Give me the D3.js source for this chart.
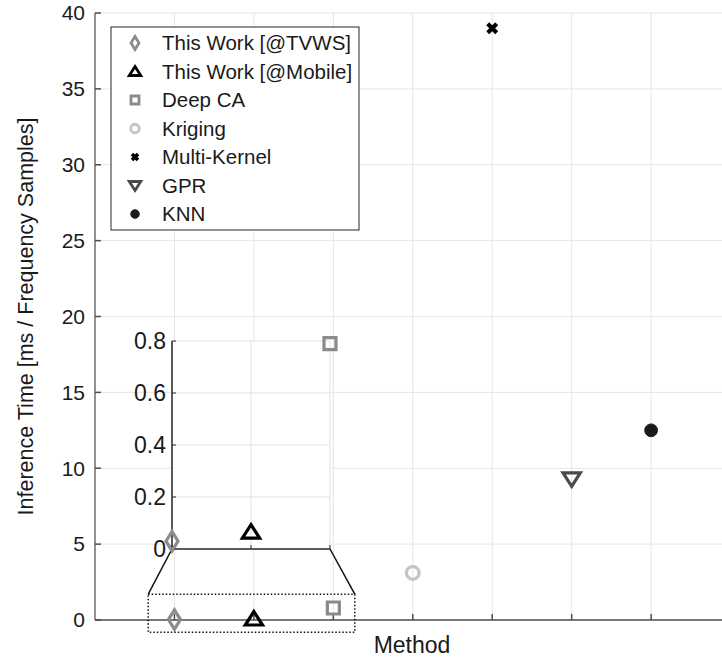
<!DOCTYPE html>
<html>
<head>
<meta charset="utf-8">
<script src="https://cdn.jsdelivr.net/npm/d3@7"></script>
<style>
  body { margin: 0; background: #fff; }
  svg text { font-family: "Liberation Sans", Arial, sans-serif; fill: #1a1a1a; }
</style>
</head>
<body>
<svg id="chart" width="722" height="660"></svg>
<script>
// data
var methods = ['This Work [@TVWS]', 'This Work [@Mobile]', 'Deep CA', 'Kriging', 'Multi-Kernel', 'GPR', 'KNN']
var methodPos = [1, 2, 3, 4, 5, 6, 7]
var inferenceMs = [0.03, 0.065, 0.79, 3.1, 39.0, 9.3, 12.5]
var markerShapes = ['diamond', 'triangle', 'square', 'circle', 'cross', 'triangleDown', 'dot']
var markerColors = ['#8c8c8c', '#000000', '#8a8a8a', '#c4c4c4', '#000000', '#4a4a4a', '#1a1a1a']
var yTicks = [0, 5, 10, 15, 20, 25, 30, 35, 40]
var xTicks = [1, 2, 3, 4, 5, 6, 7, 8]
var insetTicks = [0, 0.2, 0.4, 0.6, 0.8]
var insetLabels = ['0', '0.2', '0.4', '0.6', '0.8']
var insetCount = 3 // the three fastest methods are repeated in the zoom

var svg = d3.select('#chart')

// main scales (axes box runs past the right edge of the picture)
var x = d3.scaleLinear().domain([0, 9]).range([95, 810])
var y = d3.scaleLinear().domain([0, 40]).range([620, 13])

// inset scales
var xi = d3.scaleLinear().domain([1, 3]).range([172, 330])
var yi = d3.scaleLinear().domain([0, 0.8]).range([549, 341])

// zoom window in main data units
var zoomBox = { x0: 0.67, x1: 3.27, y0: -0.8, y1: 1.7 }

function markerPath(shape, s) {
  // s = half size
  switch (shape) {
    case 'diamond':
      return `M0,${-s * 1.3}L${s * 0.8},0L0,${s * 1.3}L${-s * 0.8},0Z`
    case 'triangle':
      return `M0,${-s}L${s * 1.15},${s * 0.8}L${-s * 1.15},${s * 0.8}Z`
    case 'triangleDown':
      return `M0,${s}L${s * 1.15},${-s * 0.8}L${-s * 1.15},${-s * 0.8}Z`
    case 'square':
      return `M${-s * 0.8},${-s * 0.8}H${s * 0.8}V${s * 0.8}H${-s * 0.8}Z`
    case 'cross':
      return `M${-s * 0.6},${-s * 0.6}L${s * 0.6},${s * 0.6}M${-s * 0.6},${s * 0.6}L${s * 0.6},${-s * 0.6}`
    default:
      return d3.arc()({ innerRadius: 0, outerRadius: s * 0.85, startAngle: 0, endAngle: 2 * Math.PI })
  }
}

function drawMarker(g, shape, color, s, sw) {
  var p = g.append('path').attr('d', markerPath(shape, s))
  if (shape == 'dot') {
    p.attr('fill', color).attr('stroke', color).attr('stroke-width', 1)
  } else {
    p.attr('fill', 'none').attr('stroke', color)
      .attr('stroke-width', shape == 'cross' ? sw * 1.3 : sw)
      .attr('stroke-linejoin', 'miter')
  }
  return p
}

// grid
var grid = svg.append('g')
grid.selectAll('.gx').data(xTicks).enter().append('line')
  .attr('x1', (d) => x(d)).attr('x2', (d) => x(d))
  .attr('y1', y(0)).attr('y2', y(40))
  .attr('stroke', '#e6e6e6').attr('stroke-width', 1)
grid.selectAll('.gy').data(yTicks.slice(1)).enter().append('line')
  .attr('x1', x(0)).attr('x2', 722)
  .attr('y1', (d) => y(d)).attr('y2', (d) => y(d))
  .attr('stroke', '#e6e6e6').attr('stroke-width', 1)

// axes lines
svg.append('line').attr('x1', x(0)).attr('x2', 722).attr('y1', y(0)).attr('y2', y(0))
  .attr('stroke', '#4d4d4d').attr('stroke-width', 1.5)
svg.append('line').attr('x1', x(0)).attr('x2', x(0)).attr('y1', y(0)).attr('y2', y(40))
  .attr('stroke', '#6e6e6e').attr('stroke-width', 1.5)

// ticks (inward)
svg.selectAll('.tx').data(xTicks).enter().append('line')
  .attr('x1', (d) => x(d)).attr('x2', (d) => x(d))
  .attr('y1', y(0)).attr('y2', y(0) - 6)
  .attr('stroke', '#4d4d4d').attr('stroke-width', 1.5)
svg.selectAll('.ty').data(yTicks).enter().append('line')
  .attr('x1', x(0)).attr('x2', x(0) + 6)
  .attr('y1', (d) => y(d)).attr('y2', (d) => y(d))
  .attr('stroke', '#4d4d4d').attr('stroke-width', 1.5)
svg.selectAll('.tyl').data(yTicks).enter().append('text')
  .attr('x', x(0) - 10).attr('y', (d) => y(d))
  .attr('dy', '0.35em').attr('text-anchor', 'end')
  .attr('font-size', 21)
  .text((d) => d)

// axis labels
svg.append('text')
  .attr('transform', `translate(33,${(y(0) + y(40)) / 2}) rotate(-90)`)
  .attr('text-anchor', 'middle').attr('font-size', 21.5)
  .text('Inference Time [ms / Frequency Samples]')
svg.append('text')
  .attr('x', 412).attr('y', 653)
  .attr('text-anchor', 'middle').attr('font-size', 23)
  .text('Method')

// main markers
methods.forEach((m, i) => {
  var g = svg.append('g').attr('transform', `translate(${x(methodPos[i])},${y(inferenceMs[i])})`)
  drawMarker(g, markerShapes[i], markerColors[i], 7.5, 3.2)
})

// zoom window + connector lines
svg.append('rect')
  .attr('x', x(zoomBox.x0)).attr('y', y(zoomBox.y1))
  .attr('width', x(zoomBox.x1) - x(zoomBox.x0))
  .attr('height', y(zoomBox.y0) - y(zoomBox.y1))
  .attr('fill', 'none').attr('stroke', '#111').attr('stroke-width', 1.5)
  .attr('stroke-dasharray', '1.5,2')
svg.append('line')
  .attr('x1', x(zoomBox.x0)).attr('y1', y(zoomBox.y1))
  .attr('x2', xi(1)).attr('y2', yi(0))
  .attr('stroke', '#111').attr('stroke-width', 1.5)
svg.append('line')
  .attr('x1', x(zoomBox.x1)).attr('y1', y(zoomBox.y1))
  .attr('x2', xi(3)).attr('y2', yi(0))
  .attr('stroke', '#111').attr('stroke-width', 1.5)

// inset
var inset = svg.append('g')
inset.append('rect')
  .attr('x', xi(1)).attr('y', yi(0.8))
  .attr('width', xi(3) - xi(1)).attr('height', yi(0) - yi(0.8))
  .attr('fill', '#fff')
inset.selectAll('.igx').data([2, 3]).enter().append('line')
  .attr('x1', (d) => xi(d)).attr('x2', (d) => xi(d))
  .attr('y1', yi(0)).attr('y2', yi(0.8))
  .attr('stroke', '#e3e3e3')
inset.selectAll('.igy').data(insetTicks.slice(1)).enter().append('line')
  .attr('x1', xi(1)).attr('x2', xi(3))
  .attr('y1', (d) => yi(d)).attr('y2', (d) => yi(d))
  .attr('stroke', '#e3e3e3')
inset.append('line').attr('x1', xi(1)).attr('x2', xi(3)).attr('y1', yi(0)).attr('y2', yi(0))
  .attr('stroke', '#262626').attr('stroke-width', 1.5)
inset.append('line').attr('x1', xi(1)).attr('x2', xi(1)).attr('y1', yi(0)).attr('y2', yi(0.8))
  .attr('stroke', '#262626').attr('stroke-width', 1.5)
inset.selectAll('.itx').data([1, 2, 3]).enter().append('line')
  .attr('x1', (d) => xi(d)).attr('x2', (d) => xi(d))
  .attr('y1', yi(0)).attr('y2', yi(0) - 4)
  .attr('stroke', '#262626')
inset.selectAll('.ity').data(insetTicks).enter().append('line')
  .attr('x1', xi(1)).attr('x2', xi(1) + 4)
  .attr('y1', (d) => yi(d)).attr('y2', (d) => yi(d))
  .attr('stroke', '#262626')
inset.selectAll('.ityl').data(insetTicks).enter().append('text')
  .attr('x', xi(1) - 6).attr('y', (d) => yi(d))
  .attr('dy', '0.35em').attr('text-anchor', 'end')
  .attr('font-size', 23)
  .text((d, i) => insetLabels[i])
methods.slice(0, insetCount).forEach((m, i) => {
  var g = inset.append('g').attr('transform', `translate(${xi(methodPos[i])},${yi(inferenceMs[i])})`)
  drawMarker(g, markerShapes[i], markerColors[i], 7.5, 3.2)
})

// legend
var lg = svg.append('g').attr('transform', 'translate(111,27)')
lg.append('rect').attr('width', 248).attr('height', 203)
  .attr('fill', '#fff').attr('stroke', '#262626').attr('stroke-width', 1)
methods.forEach((m, i) => {
  var row = lg.append('g').attr('transform', `translate(0,${16 + i * 28.5})`)
  var mk = row.append('g').attr('transform', 'translate(24,0)')
  drawMarker(mk, markerShapes[i], markerColors[i], 5, 2.8)
  row.append('text').attr('x', 51).attr('dy', '0.35em')
    .attr('font-size', 20.5).text(m)
})
</script>
</body>
</html>
